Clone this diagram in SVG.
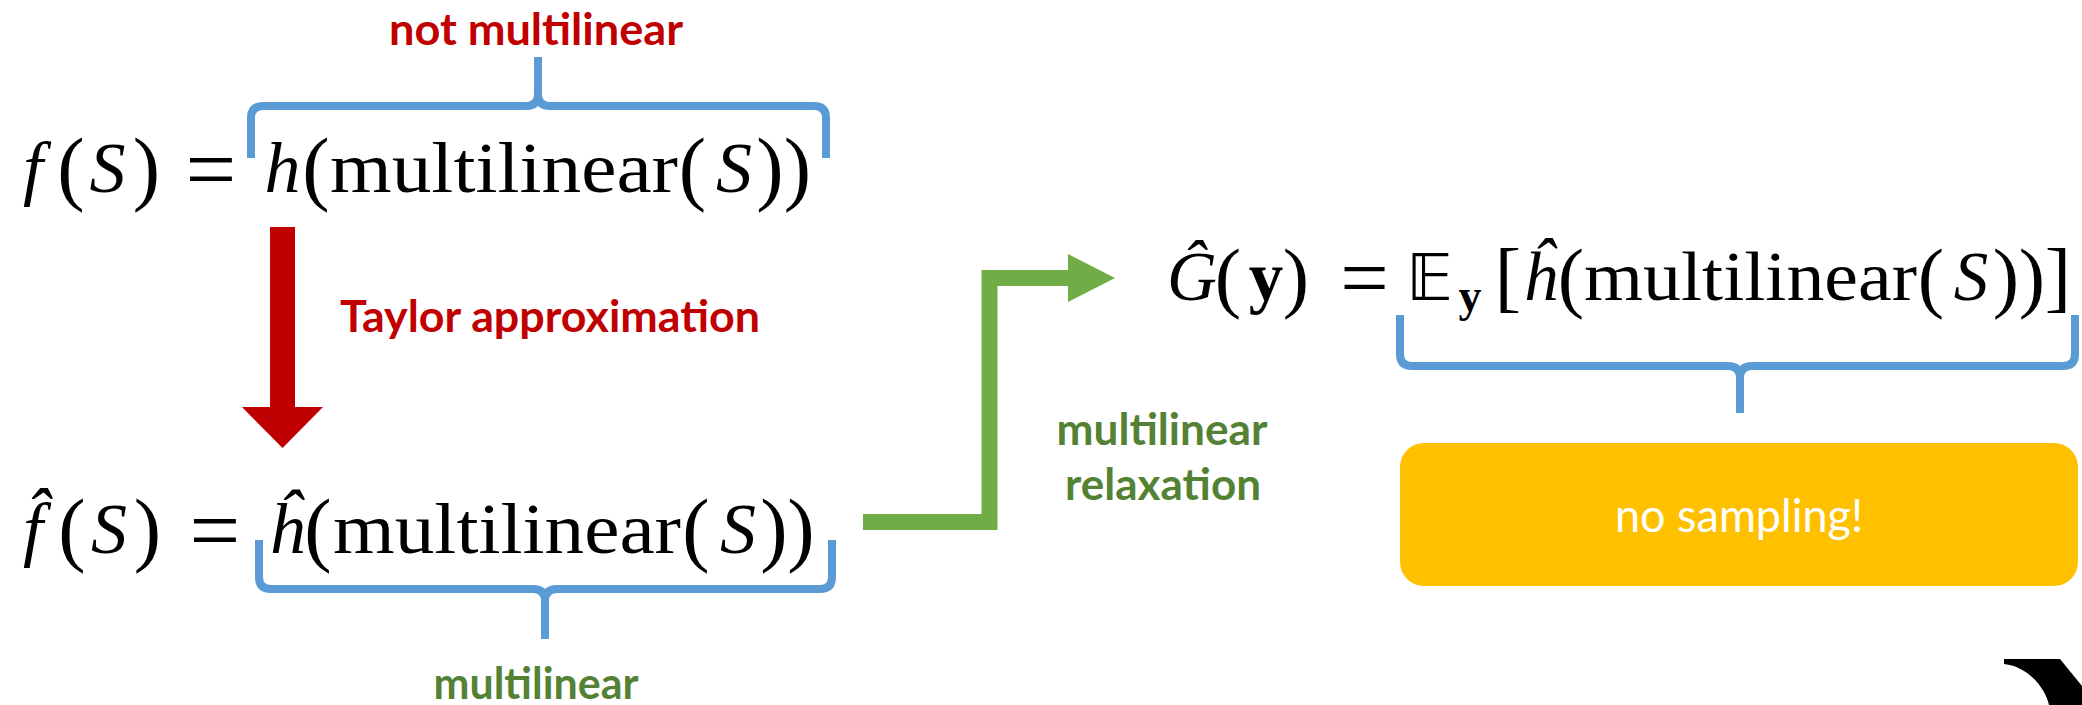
<svg xmlns="http://www.w3.org/2000/svg" width="2082" height="705" viewBox="0 0 2082 705">
<style>
.m{font-family:"Liberation Serif","Times New Roman",serif;font-size:72px;fill:#000;text-anchor:middle}
.mi{font-style:italic}
.p{font-size:82px}
.eq{font-size:90px}
.g{font-size:69px}
.gp{font-size:79px}
.lbl{font-family:Lato,"Liberation Sans",Arial,sans-serif;font-weight:bold;font-size:44px;text-anchor:middle}
.red{fill:#C00000}
.grn{fill:#548235}
.brace{fill:none;stroke:#5B9BD5;stroke-width:8;stroke-linejoin:round}
</style>
<rect width="2082" height="705" fill="#fff"/>

<g id="connectors">
  <g id="taylor-arrow">
    <rect x="270" y="227" width="25" height="181" fill="#C00000"/>
    <polygon points="242,407 323,407 282.5,448" fill="#C00000"/>
  </g>
  <g id="relaxation-arrow">
    <polyline points="863,522 989.5,522 989.5,278 1069,278" fill="none" stroke="#70AD47" stroke-width="16" stroke-linejoin="miter"/>
    <polygon points="1068,254 1115,278 1068,302" fill="#70AD47"/>
  </g>
  <path id="brace-top" class="brace" d="M251,158 V118 Q251,106 263,106 H526 Q538,106 538,94 V57 M538,94 Q538,106 550,106 H814 Q826,106 826,118 V158"/>
  <path id="brace-bottom" class="brace" d="M259,540 V577 Q259,589 271,589 H533 Q545,589 545,601 V639 M545,601 Q545,589 557,589 H820 Q832,589 832,577 V540"/>
  <path id="brace-g" class="brace" d="M1400,315 V354 Q1400,366 1412,366 H1728 Q1740,366 1740,378 V413 M1740,378 Q1740,366 1752,366 H2063 Q2075,366 2075,354 V315"/>
</g>

<g id="label-not-multilinear">
  <text class="lbl red" x="536" y="45" textLength="294" lengthAdjust="spacingAndGlyphs">not multilinear</text>
</g>
<g id="label-taylor">
  <text class="lbl red" x="550" y="332" textLength="420" lengthAdjust="spacingAndGlyphs">Taylor approximation</text>
</g>
<g id="label-relaxation">
  <text class="lbl grn" x="1162" y="445" textLength="211" lengthAdjust="spacingAndGlyphs">multilinear</text>
  <text class="lbl grn" x="1163" y="500" textLength="196" lengthAdjust="spacingAndGlyphs">relaxation</text>
</g>
<g id="label-multilinear">
  <text class="lbl grn" x="536" y="699" textLength="205" lengthAdjust="spacingAndGlyphs">multilinear</text>
</g>

<g id="node-f">
  <text class="m mi" x="33" y="192">f</text>
  <text class="m p" x="71" y="195">(</text>
  <text class="m mi" x="107.5" y="192">S</text>
  <text class="m p" x="146.5" y="195">)</text>
  <text class="m eq" x="211" y="200">=</text>
  <text class="m mi" x="282.5" y="192">h</text>
  <text class="m p" x="316" y="195">(</text>
  <text class="m" x="330" y="192" style="text-anchor:start" textLength="348" lengthAdjust="spacingAndGlyphs">multilinear</text>
  <text class="m p" x="692.5" y="195">(</text>
  <text class="m mi" x="734" y="192">S</text>
  <text class="m p" x="770" y="195">)</text>
  <text class="m p" x="797.5" y="195">)</text>
</g>

<g id="node-fhat">
  <text class="m mi" x="33" y="553">f̂</text>
  <text class="m p" x="72" y="556">(</text>
  <text class="m mi" x="109" y="553">S</text>
  <text class="m p" x="147.5" y="556">)</text>
  <text class="m eq" x="215" y="561">=</text>
  <text class="m mi" x="286.5" y="553">ĥ</text>
  <text class="m p" x="318" y="556">(</text>
  <text class="m" x="333" y="553" style="text-anchor:start" textLength="348" lengthAdjust="spacingAndGlyphs">multilinear</text>
  <text class="m p" x="696" y="556">(</text>
  <text class="m mi" x="738" y="553">S</text>
  <text class="m p" x="774" y="556">)</text>
  <text class="m p" x="801" y="556">)</text>
</g>

<g id="node-G">
  <text class="m mi g" x="1192" y="300">Ĝ</text>
  <text class="m gp" x="1228" y="303">(</text>
  <text class="m g" x="1266" y="300" font-weight="bold">y</text>
  <text class="m gp" x="1296" y="303">)</text>
  <text class="m eq" x="1364.5" y="307" style="font-size:86px">=</text>
  <text x="1429.5" y="300" style="font-family:'DejaVu Sans','DejaVu Serif',sans-serif;font-size:64px;text-anchor:middle">𝔼</text>
  <text class="m" x="1470" y="311" font-weight="bold" style="font-size:46px">y</text>
  <text class="m gp" x="1508" y="303">[</text>
  <text class="m mi g" x="1540" y="300">ĥ</text>
  <text class="m gp" x="1571" y="303">(</text>
  <text class="m g" x="1584" y="300" style="text-anchor:start" textLength="333" lengthAdjust="spacingAndGlyphs">multilinear</text>
  <text class="m gp" x="1931" y="303">(</text>
  <text class="m mi g" x="1971" y="300">S</text>
  <text class="m gp" x="2006" y="303">)</text>
  <text class="m gp" x="2032" y="303">)</text>
  <text class="m gp" x="2058" y="303">]</text>
</g>

<g id="node-no-sampling">
  <rect x="1400" y="443" width="678" height="143" rx="24" ry="24" fill="#FFC000"/>
  <text x="1739" y="532" style="font-family:Lato,'Liberation Sans',Arial,sans-serif;font-size:46px;fill:#fff;text-anchor:middle" textLength="248" lengthAdjust="spacingAndGlyphs">no sampling!</text>
</g>

<g id="corner-shape">
  <path d="M2004,659 L2060,659 L2082,686 L2082,705 L2049,705 C2046,690 2030,667 2004,664 Z" fill="#000"/>
</g>
</svg>
